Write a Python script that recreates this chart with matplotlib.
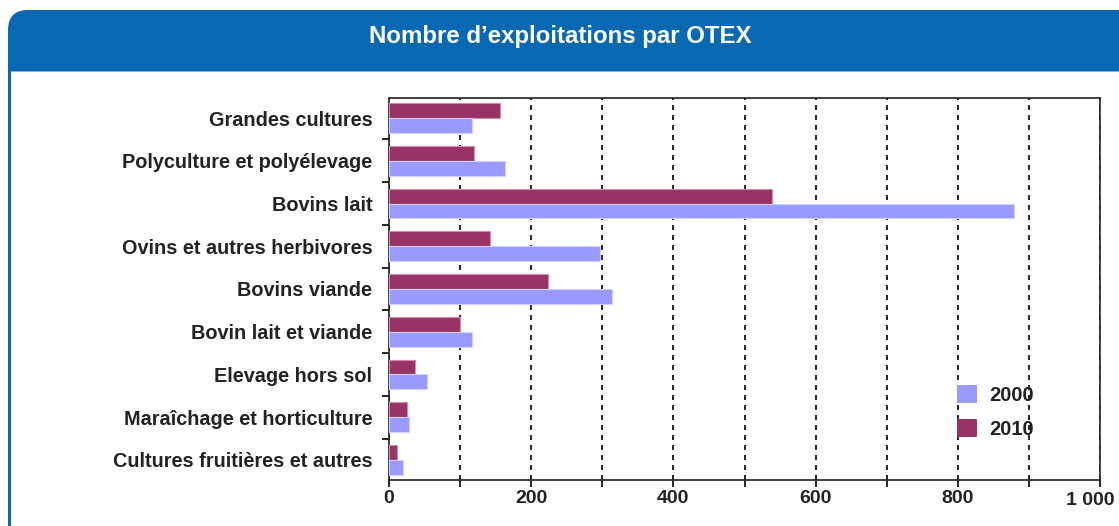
import numpy as np
import matplotlib
matplotlib.use("Agg")
import matplotlib.pyplot as plt
from matplotlib.patches import FancyBboxPatch, Rectangle, Patch

plt.rcParams['font.family'] = ['Liberation Sans', 'DejaVu Sans']
plt.rcParams['font.weight'] = 'bold'

# data
categories = ["Grandes cultures", "Polyculture et polyélevage", "Bovins lait",
              "Ovins et autres herbivores", "Bovins viande", "Bovin lait et viande",
              "Elevage hors sol", "Maraîchage et horticulture",
              "Cultures fruitières et autres"]
values_2010 = [156, 120, 539, 142, 224, 100, 36, 25, 11]
values_2000 = [117, 163, 879, 297, 313, 117, 53, 28, 19]
x_ticks = [0, 200, 400, 600, 800]
x_tick_labels = ["0", "200", "400", "600", "800"]
last_tick_label = "1 000"
title = "Nombre d\u2019exploitations par OTEX"

blue = "#0869b2"
c2010 = "#993366"
c2000 = "#9999ff"
txt = "#222222"

fig = plt.figure(figsize=(11.19, 5.26), dpi=100)
W, H = 11.19, 5.26

# panel frame: blue rounded header + left border (inch coordinates)
frame = FancyBboxPatch((0.08 + 0.2, -1.0), 12.0, H - 0.10 + 1.0 - 0.2,
                       boxstyle="round,pad=0.2", transform=fig.dpi_scale_trans,
                       facecolor=blue, edgecolor="none", zorder=0)
fig.patches.append(frame)
inner = Rectangle((0.11, -1.0), 12.0, H - 0.72 + 1.0, transform=fig.dpi_scale_trans,
                  facecolor="white", edgecolor="none", zorder=1)
fig.patches.append(inner)
sep = Rectangle((0.11, H - 0.72), 12.0, 0.01, transform=fig.dpi_scale_trans,
                facecolor="#7fb2dc", edgecolor="none", zorder=1)
fig.patches.append(sep)
fig.text(560 / 1119, 1 - 37 / 526, title, color="white", fontsize=17.3,
         fontweight="bold", ha="center", va="center", zorder=3)

ax = fig.add_axes([389 / 1119, 1 - 480 / 526, (1100 - 389) / 1119, (480 - 98) / 526])
ax.set_zorder(2)
ax.patch.set_alpha(0)

y = np.arange(len(categories))
h = 0.35
ax.barh(y - h / 2, values_2010, height=h, color=c2010, edgecolor="#d58aae", linewidth=0.8, zorder=3)
ax.barh(y + h / 2, values_2000, height=h, color=c2000, edgecolor="#d0d0ff", linewidth=0.8, zorder=3)

ax.set_xlim(0, 1000)
ax.set_ylim(len(categories) - 1 + 0.47, -0.47)

ax.set_xticks(np.arange(0, 1001, 100))
ax.set_xticklabels([x_tick_labels[x_ticks.index(v)] if v in x_ticks else "" for v in range(0, 1001, 100)])
ax.tick_params(axis="x", direction="out", length=5, width=1.2, pad=2, labelsize=14)
for lbl in ax.get_xticklabels():
    lbl.set_fontweight("bold")
    lbl.set_color(txt)
# last label sits a little lower and to the left, as in the original
ax.annotate(last_tick_label, xy=(1000, 0), xycoords=("data", "axes fraction"),
            xytext=(-7, -8.5), textcoords="offset points", ha="center", va="top",
            fontsize=14, fontweight="bold", color=txt, annotation_clip=False)

ax.set_yticks(y)
ax.set_yticklabels(categories, fontsize=14.3, fontweight="bold", color=txt)
ax.tick_params(axis="y", which="major", length=0, pad=12)
ax.set_yticks(np.arange(0.5, len(categories) - 1, 1), minor=True)
ax.tick_params(axis="y", which="minor", direction="out", length=5, width=1.2)

ax.grid(axis="x", color="black", linestyle=(0, (3, 3)), linewidth=1.2, zorder=1)
for s in ax.spines.values():
    s.set_linewidth(1.2)
    s.set_color(txt)

handles = [Patch(facecolor=c2000, edgecolor="none", label="2000"),
           Patch(facecolor=c2010, edgecolor="none", label="2010")]
leg = fig.legend(handles=handles, loc="upper left", bbox_to_anchor=(957 / 1119, 1 - 385 / 526),
                 frameon=False, fontsize=14.5, handlelength=1.0, handleheight=1.0,
                 handletextpad=0.6, labelspacing=0.7, borderpad=0, borderaxespad=0)
for t in leg.get_texts():
    t.set_fontweight("bold")
    t.set_color(txt)

fig.savefig("out.png", dpi=100)
